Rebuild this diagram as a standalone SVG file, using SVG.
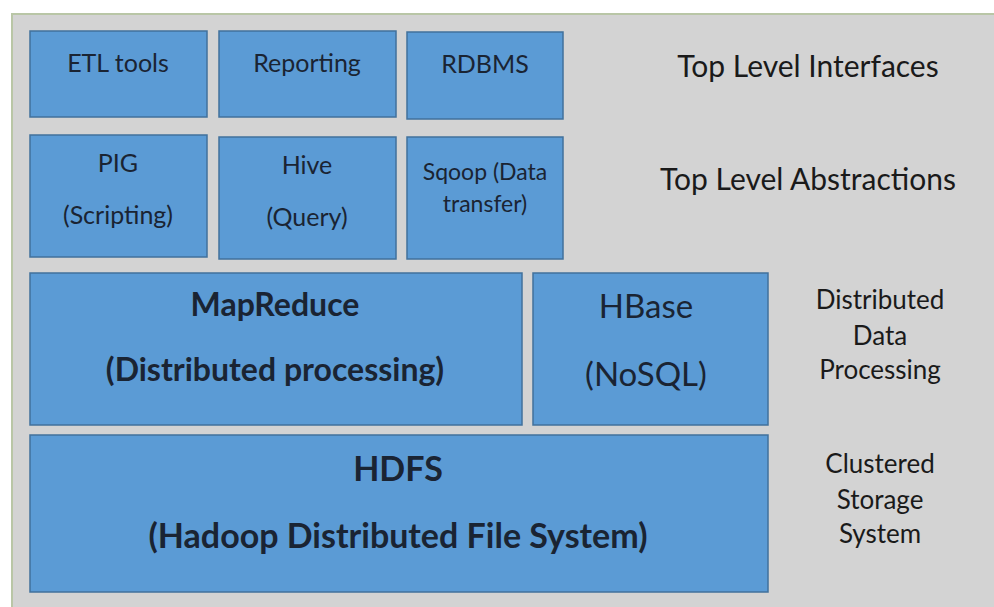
<svg xmlns="http://www.w3.org/2000/svg" width="994" height="607" viewBox="0 0 994 607">
<style>
.box{fill:#5b9bd5;stroke:#41719c;stroke-width:1.5}
.t{font-family:Lato,"Open Sans","Liberation Sans",sans-serif;fill:#1a2433;text-anchor:middle}
.s{font-size:25px}
.b{font-weight:bold}
.side{font-family:Lato,"Open Sans","Liberation Sans",sans-serif;fill:#1a1a1a;text-anchor:middle}
</style>
<rect x="0" y="0" width="994" height="607" fill="#ffffff"/>
<rect x="12" y="14" width="990" height="600" fill="#d3d3d3" stroke="#b9c6a6" stroke-width="2"/>
<g id="etl"><rect class="box" x="30" y="31" width="177" height="86"/><text class="t s" x="118" y="72">ETL tools</text></g>
<g id="reporting"><rect class="box" x="219" y="31" width="177" height="86"/><text class="t s" x="307" y="72">Reporting</text></g>
<g id="rdbms"><rect class="box" x="407" y="32" width="156" height="87"/><text class="t s" x="485" y="73">RDBMS</text></g>
<g id="pig"><rect class="box" x="30" y="135" width="177" height="122"/><text class="t s" x="118" y="172">PIG</text><text class="t s" x="118" y="224">(Scripting)</text></g>
<g id="hive"><rect class="box" x="219" y="137" width="177" height="122"/><text class="t s" x="307" y="174">Hive</text><text class="t s" x="307" y="226">(Query)</text></g>
<g id="sqoop"><rect class="box" x="407" y="137" width="156" height="122"/><text class="t" font-size="23" x="485" y="180">Sqoop (Data</text><text class="t" font-size="23" x="485" y="212">transfer)</text></g>
<g id="mapreduce"><rect class="box" x="30" y="273" width="492" height="152"/><text class="t b" font-size="32" x="275" y="316">MapReduce</text><text class="t b" font-size="32" x="275" y="381">(Distributed processing)</text></g>
<g id="hbase"><rect class="box" x="533" y="273" width="235" height="152"/><text class="t" font-size="33" x="646" y="318">HBase</text><text class="t" font-size="33" x="646" y="386">(NoSQL)</text></g>
<g id="hdfs"><rect class="box" x="30" y="435" width="738" height="157"/><text class="t b" font-size="34" x="398" y="481">HDFS</text><text class="t b" font-size="34" x="398" y="548">(Hadoop Distributed File System)</text></g>
<g id="labels">
<text class="side" font-size="30" x="808" y="77">Top Level Interfaces</text>
<text class="side" font-size="30" x="808" y="190">Top Level Abstractions</text>
<text class="side" font-size="26" x="880" y="309">Distributed</text>
<text class="side" font-size="26" x="880" y="345">Data</text>
<text class="side" font-size="26" x="880" y="379">Processing</text>
<text class="side" font-size="26" x="880" y="473">Clustered</text>
<text class="side" font-size="26" x="880" y="509">Storage</text>
<text class="side" font-size="26" x="880" y="543">System</text>
</g>
<g id="connectors"></g>
</svg>
